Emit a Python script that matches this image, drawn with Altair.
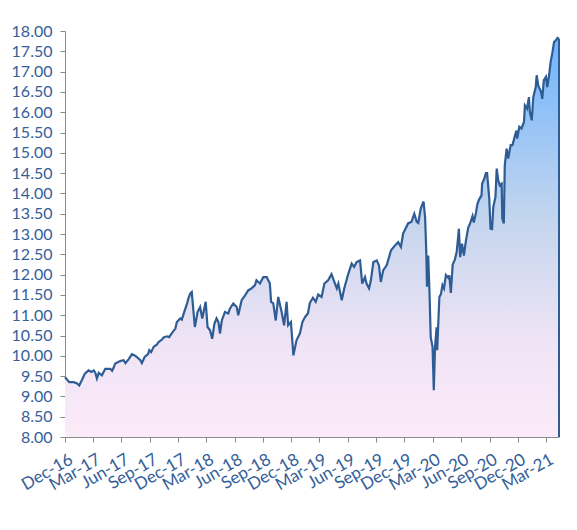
import altair as alt
import pandas as pd

# ---- data ----
start_date = "2016-12-15"
day_offsets = [
    0, 14, 28, 39, 46, 55, 64, 76, 85, 93, 98, 103, 109, 119, 130, 146, 152, 157, 162,
    178, 189, 195, 205, 216, 225, 232, 243, 248, 257, 268, 272, 278, 286, 297, 302,
    313, 318, 329, 336, 345, 356, 361, 372, 377, 383, 394, 398, 404, 409,
    419, 428, 436, 443, 454, 460, 468, 475, 482, 489, 495, 500, 506, 516, 527, 532,
    543, 554, 559, 570, 581, 591, 602, 613, 618, 629, 640, 651, 661, 665, 672, 680,
    688, 699, 707, 715, 720, 729, 737, 747, 758, 766, 774, 784, 790, 800, 809, 817,
    828, 837, 849, 860, 869, 877, 882, 893, 901, 914, 925, 933, 941, 952, 959, 968,
    973, 981, 987, 995, 1006, 1013, 1019, 1027, 1038, 1052, 1065, 1075, 1084, 1091,
    1107, 1118, 1127, 1135, 1140, 1148, 1157, 1162, 1166, 1168, 1172, 1176, 1180,
    1186, 1190, 1194, 1199, 1201, 1204, 1208, 1213, 1218, 1223, 1229, 1237, 1240,
    1245, 1251, 1258, 1264, 1271, 1275, 1281, 1287, 1294, 1301, 1308, 1315, 1319,
    1326, 1331, 1337, 1344, 1346, 1353, 1358, 1362, 1369, 1373, 1378, 1382, 1389,
    1393, 1398, 1403, 1409, 1411, 1416, 1419, 1425, 1430, 1438, 1444, 1452, 1457,
    1459, 1466, 1473, 1481, 1484, 1491, 1497, 1500, 1506, 1511, 1519, 1522, 1527,
    1536, 1540, 1545, 1552, 1556, 1562, 1567, 1573, 1578, 1584, 1589, 1594,
]
index_values = [
    9.47, 9.35, 9.35, 9.32, 9.27, 9.41, 9.56, 9.64, 9.60, 9.64, 9.58, 9.44, 9.58, 9.52,
    9.68, 9.68, 9.63, 9.71, 9.81, 9.87, 9.89, 9.82, 9.91, 10.04, 10.01, 9.97, 9.89,
    9.82, 9.97, 10.04, 10.14, 10.09, 10.22, 10.28, 10.34, 10.40, 10.45, 10.48, 10.46,
    10.56, 10.67, 10.83, 10.92, 10.89, 11.04, 11.29, 11.41, 11.53, 11.57,
    10.71, 11.08, 11.20, 10.92, 11.33, 10.71, 10.63, 10.42, 10.79, 10.92, 10.83, 10.55,
    10.87, 11.08, 11.04, 11.16, 11.29, 11.20, 11.00, 11.37, 11.49, 11.61, 11.66, 11.74,
    11.86, 11.78, 11.94, 11.94, 11.78, 11.33, 11.29, 10.87, 11.45, 11.08, 10.75, 11.33,
    10.75, 10.83, 10.01, 10.38, 10.55, 10.83, 10.95, 11.05, 11.30, 11.43, 11.33, 11.51,
    11.45, 11.78, 11.86, 12.01, 11.82, 11.66, 11.78, 11.37, 11.66, 12.02, 12.27, 12.19,
    12.31, 12.35, 11.78, 11.94, 11.78, 11.66, 11.86, 12.31, 12.35, 12.23, 11.82, 12.11,
    12.23, 12.60, 12.72, 12.80, 12.68, 13.01, 13.26, 13.30, 13.50, 13.30, 13.27, 13.63,
    13.80, 13.40, 12.50, 11.70, 12.47, 11.60, 10.46, 10.22, 9.15, 10.22, 10.70, 10.14,
    10.71, 11.45, 11.52, 11.74, 11.66, 11.99, 11.92, 11.98, 11.55, 12.25, 12.37, 12.56,
    13.13, 12.43, 12.76, 12.47, 12.85, 13.15, 13.28, 13.44, 13.28, 13.52, 13.75, 13.86,
    13.95, 14.24, 14.36, 14.50, 14.50, 13.87, 13.13, 13.12, 13.67, 13.91, 14.61, 14.32,
    14.20, 14.24, 13.38, 13.26, 14.69, 15.10, 14.86, 15.19, 15.19, 15.43, 15.55, 15.35,
    15.64, 15.60, 15.76, 16.17, 16.09, 16.37, 16.00, 15.80, 16.37, 16.62, 16.91, 16.66,
    16.50, 16.33, 16.79, 16.87, 16.62, 16.91, 17.24, 17.48, 17.73, 17.77, 17.83, 17.81,
]
y_ticks = [8.0, 8.5, 9.0, 9.5, 10.0, 10.5, 11.0, 11.5, 12.0, 12.5, 13.0, 13.5,
           14.0, 14.5, 15.0, 15.5, 16.0, 16.5, 17.0, 17.5, 18.0]
x_tick_months = [(2016, 12), (2017, 3), (2017, 6), (2017, 9), (2017, 12), (2018, 3),
                 (2018, 6), (2018, 9), (2018, 12), (2019, 3), (2019, 6), (2019, 9),
                 (2019, 12), (2020, 3), (2020, 6), (2020, 9), (2020, 12), (2021, 3)]
y_floor = 8.0

df = pd.DataFrame({
    "date": pd.to_datetime(start_date) + pd.to_timedelta(day_offsets, unit="D"),
    "value": index_values,
})
df["date"] = df["date"].dt.strftime("%Y-%m-%d")
last = df.iloc[[-1]].copy()

LABEL = "#34609a"
AXIS = "#8a8a8a"
LINE = "#2e5c94"
FONT = "Lato"

x_scale = alt.Scale(domain=[alt.DateTime(year=2016, month=12, date=15),
                            alt.DateTime(year=2021, month=4, date=27)])
y_scale = alt.Scale(domain=[8, 18], zero=False, nice=False)

x_axis = alt.Axis(
    values=[alt.DateTime(year=y, month=m, date=15) for y, m in x_tick_months],
    format="%b-%y", labelAngle=-30, labelAlign="right", labelBaseline="top",
    labelPadding=9, labelOffset=2, labelOverlap=False, labelBound=False,
    labelFlush=False, grid=False, title=None, tickSize=5, domainColor=AXIS,
    tickColor=AXIS, labelColor=LABEL, labelFont=FONT, labelFontSize=17,
)
y_axis = alt.Axis(
    values=y_ticks, format=".2f", grid=False, title=None, tickSize=5,
    domainColor=AXIS, tickColor=AXIS, labelColor=LABEL, labelFont=FONT,
    labelFontSize=16, labelPadding=8,
)

X = alt.X("date:T", scale=x_scale, axis=x_axis)
Y = alt.Y("value:Q", scale=y_scale, axis=y_axis)

base = alt.Chart(df)

area = base.mark_area(
    color=alt.Gradient(
        gradient="linear",
        stops=[
            alt.GradientStop(color="#6fb4fd", offset=0),
            alt.GradientStop(color="#c3d5ee", offset=0.45),
            alt.GradientStop(color="#eee3f5", offset=0.75),
            alt.GradientStop(color="#fcebf9", offset=1),
        ],
        x1=1, x2=1, y1=0, y2=1,
    )
).encode(x=X, y=Y, y2=alt.datum(y_floor))

line = base.mark_line(color=LINE, strokeWidth=2.2).encode(x=X, y=Y)

edge = alt.Chart(last).mark_rule(color=LINE, strokeWidth=2).encode(
    x=X, y=Y, y2=alt.datum(y_floor)
)

chart = alt.layer(area, line, edge).properties(
    width=494, height=406,
    autosize=alt.AutoSizeParams(type="none"),
    padding={"left": 57, "top": 23, "right": 10, "bottom": 80},
).configure_view(strokeWidth=0).configure_axis(labelOverlap=False)

chart.save("out.html", embed_options={"renderer": "svg", "actions": False})
